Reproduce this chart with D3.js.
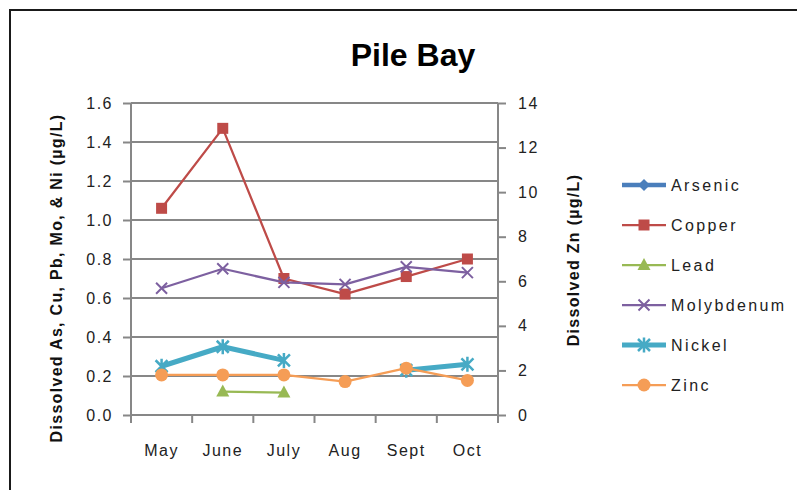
<!DOCTYPE html>
<meta charset="utf-8">
<head>
  <style>
    body { margin: 0; background: #fff; }
    .tick text { font-family: "Liberation Sans", Arial, sans-serif; font-size: 16px; letter-spacing: 1.5px; fill: #222; }
    .axis-title { font-family: "Liberation Sans", Arial, sans-serif; font-size: 16px; font-weight: bold; fill: #111; }
  </style>
  <title>Pile Bay</title>
</head>
<body>
<div id="my_dataviz"></div>
<script src="https://d3js.org/d3.v7.min.js"></script>
<script>

// data
var months = ["May", "June", "July", "Aug", "Sept", "Oct"];
var arsenic    = [null, null, null, null, null, null];
var copper     = [1.06, 1.47, 0.70, 0.62, 0.71, 0.80];
var lead       = [null, 0.12, 0.115, null, null, null];
var molybdenum = [0.65, 0.75, 0.68, 0.67, 0.76, 0.73];
var nickel     = [0.25, 0.35, 0.28, null, 0.23, 0.26];
var zinc       = [1.8, 1.8, 1.8, 1.5, 2.1, 1.55];   // right axis
var leftTicks  = [0, 0.2, 0.4, 0.6, 0.8, 1.0, 1.2, 1.4, 1.6];
var rightTicks = [0, 2, 4, 6, 8, 10, 12, 14];

var series = [
  {name: "Arsenic",    values: arsenic,    color: "#4A7EBB", width: 4.5, marker: "diamond",  axis: "left"},
  {name: "Copper",     values: copper,     color: "#BE4B48", width: 2.25, marker: "square",  axis: "left"},
  {name: "Lead",       values: lead,       color: "#98B954", width: 2.25, marker: "triangle", axis: "left"},
  {name: "Molybdenum", values: molybdenum, color: "#7D60A0", width: 2.25, marker: "x",       axis: "left"},
  {name: "Nickel",     values: nickel,     color: "#46AAC5", width: 5,   marker: "star",     axis: "left"},
  {name: "Zinc",       values: zinc,       color: "#F59D56", width: 2.25, marker: "circle",  axis: "right"}
];

var W = 797, H = 490;
var margin = {top: 103, left: 131, right: 299, bottom: 75};
var width = W - margin.left - margin.right,
    height = H - margin.top - margin.bottom;

var svg = d3.select("#my_dataviz")
  .append("svg")
    .attr("width", W)
    .attr("height", H);

// outer frame
svg.append("rect")
  .attr("x", 10).attr("y", 10)
  .attr("width", W + 20).attr("height", H + 20)
  .attr("fill", "none").attr("stroke", "#1a1a1a").attr("stroke-width", 2);

svg.append("text")
  .attr("x", 413).attr("y", 66)
  .attr("text-anchor", "middle")
  .style("font", "bold 32px 'Liberation Sans', Arial, sans-serif")
  .style("fill", "#000")
  .text("Pile Bay");

var g = svg.append("g")
  .attr("transform", "translate(" + margin.left + "," + margin.top + ")");

var x = d3.scaleBand().domain(months).range([0, width]);
var yL = d3.scaleLinear().domain([0, 1.6]).range([height, 0]);
var yR = d3.scaleLinear().domain([0, 14]).range([height, 0]);

// gridlines
g.selectAll(".grid")
  .data(leftTicks)
  .enter().append("line")
    .attr("x1", 0).attr("x2", width)
    .attr("y1", function(d) { return yL(d); })
    .attr("y2", function(d) { return yL(d); })
    .attr("stroke", "#878787").attr("stroke-width", 2);

// axes
var axL = g.append("g")
  .call(d3.axisLeft(yL).tickValues(leftTicks).tickFormat(d3.format(".1f")).tickSize(8).tickPadding(10));
var axR = g.append("g")
  .attr("transform", "translate(" + width + ",0)")
  .call(d3.axisRight(yR).tickValues(rightTicks).tickSize(8).tickPadding(12));
var xTicks = d3.range(months.length + 1).map(function(i) { return i * x.step(); });
var axB = g.append("g")
  .attr("transform", "translate(0," + height + ")")
  .call(d3.axisBottom(x).tickSize(0).tickPadding(30));
axB.selectAll(".xt").data(xTicks).enter().append("line")
  .attr("x1", function(d) { return d; }).attr("x2", function(d) { return d; })
  .attr("y1", 0).attr("y2", 8)
  .attr("stroke", "#878787").attr("stroke-width", 2);

[axL, axR, axB].forEach(function(a) {
  a.select(".domain").attr("stroke", "#878787").attr("stroke-width", 2);
  a.selectAll(".tick line").attr("stroke", "#878787").attr("stroke-width", 2);
});
axB.select(".domain").attr("d", "M0,0H" + width);
axL.select(".domain").attr("d", "M0,0V" + height);
axR.select(".domain").attr("d", "M0,0V" + height);

// axis titles
svg.append("text")
  .attr("class", "axis-title")
  .attr("transform", "translate(62,278) rotate(-90)")
  .attr("text-anchor", "middle")
  .style("letter-spacing", "1.3px")
  .text("Dissolved As, Cu, Pb, Mo, & Ni (\u00b5g/L)");
svg.append("text")
  .attr("class", "axis-title")
  .attr("transform", "translate(579,260) rotate(-90)")
  .attr("text-anchor", "middle")
  .style("letter-spacing", "1.3px")
  .text("Dissolved Zn (\u00b5g/L)");

function markerPath(type) {
  if (type === "diamond") return "M0,-6L6,0L0,6L-6,0Z";
  if (type === "square") return "M-5.5,-5.5H5.5V5.5H-5.5Z";
  if (type === "triangle") return "M0,-7L6.5,5H-6.5Z";
  if (type === "x") return "M-5.5,-5.5L5.5,5.5M-5.5,5.5L5.5,-5.5";
  if (type === "star") return "M-6,-6L6,6M-6,6L6,-6M0,-7.5V7.5";
  return null;
}

function drawMarker(sel, s) {
  if (s.marker === "circle") {
    sel.append("circle").attr("r", 6.5).attr("fill", s.color);
  } else if (s.marker === "x" || s.marker === "star") {
    sel.append("path").attr("d", markerPath(s.marker))
      .attr("stroke", s.color).attr("stroke-width", s.marker === "star" ? 2.5 : 2).attr("fill", "none");
  } else {
    sel.append("path").attr("d", markerPath(s.marker)).attr("fill", s.color);
  }
}

series.forEach(function(s) {
  var yS = s.axis === "left" ? yL : yR;
  var pts = months.map(function(m, i) { return {m: m, v: s.values[i]}; });
  var line = d3.line()
    .defined(function(d) { return d.v != null; })
    .x(function(d) { return x(d.m) + x.bandwidth() / 2; })
    .y(function(d) { return yS(d.v); });
  g.append("path")
    .datum(pts)
    .attr("d", line)
    .attr("fill", "none")
    .attr("stroke", s.color)
    .attr("stroke-width", s.width)
    .attr("stroke-linejoin", "round");
  pts.filter(function(d) { return d.v != null; }).forEach(function(d) {
    var mk = g.append("g")
      .attr("transform", "translate(" + (x(d.m) + x.bandwidth() / 2) + "," + yS(d.v) + ")");
    drawMarker(mk, s);
  });
});

// legend
var legend = svg.append("g").attr("transform", "translate(622,185)");
series.forEach(function(s, i) {
  var row = legend.append("g").attr("transform", "translate(0," + (i * 40) + ")");
  row.append("line").attr("x1", 0).attr("x2", 44).attr("y1", 0).attr("y2", 0)
    .attr("stroke", s.color).attr("stroke-width", s.width);
  drawMarker(row.append("g").attr("transform", "translate(22,0)"), s);
  row.append("text")
    .attr("x", 49).attr("y", 6)
    .style("font", "16px 'Liberation Sans', Arial, sans-serif")
    .style("letter-spacing", "2.4px")
    .style("fill", "#222")
    .text(s.name);
});

</script>
</body>
